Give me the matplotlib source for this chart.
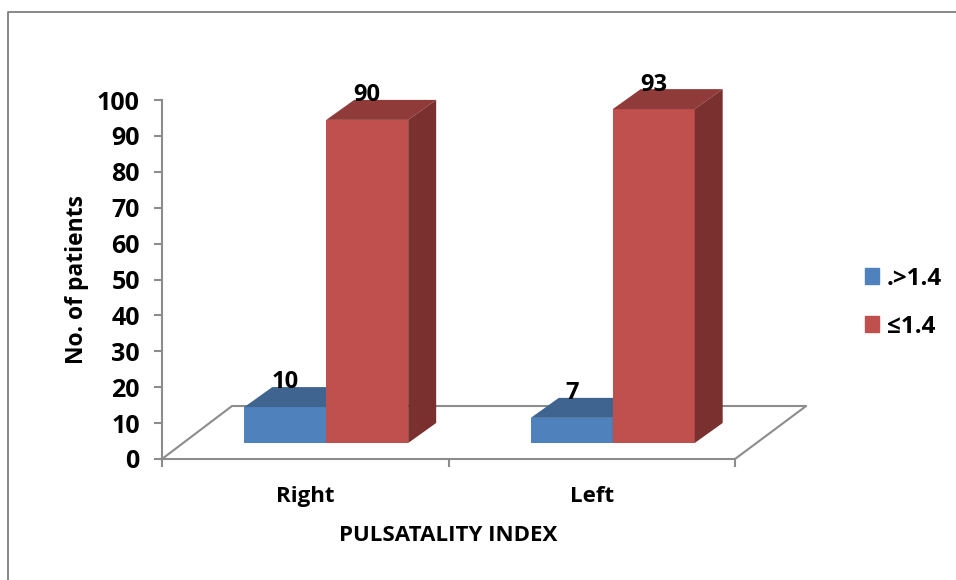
import matplotlib
matplotlib.use("Agg")
import matplotlib.pyplot as plt
from matplotlib.lines import Line2D
from matplotlib.patches import Patch

# Data
categories = ["Right", "Left"]
series_names = [".>1.4", "≤1.4"]
low_values = [10, 7]
high_values = [90, 93]
y_ticks = [0, 10, 20, 30, 40, 50, 60, 70, 80, 90, 100]

# Colours
blue, blue_top = "#4F81BD", "#3F6490"
red, red_top, red_side = "#C0504D", "#8F3B39", "#7A302E"
grey = "#8C8C8C"

plt.rcParams["font.family"] = ["Open Sans", "DejaVu Sans"]
plt.rcParams["font.weight"] = "bold"
plt.rcParams["font.size"] = 16

W, H = 956, 580
fig = plt.figure(figsize=(W / 100, H / 100), dpi=100)
ax = fig.add_axes([162 / W, 1 - 459 / H, 573 / W, 359 / H])
ax.set_xlim(0, 2)
ax.set_ylim(0, 100)

# pseudo 3d sizes in data units
base = 4.46
bar_w = 0.286
shift = 0.0733
depth_x = 0.0977
depth_y = 5.57
floor_x = 0.2443
floor_y = 14.76

# floor outline
ax.plot([0, floor_x, 2 + floor_x + 0.004, 2],
        [0, floor_y, floor_y, 0],
        color=grey, lw=1.5, clip_on=False, zorder=1)


def draw_bar(x0, value, front, top, side, z):
    top_y = base + value
    ax.bar(x0, value, width=bar_w, bottom=base, align="edge", color=front,
           zorder=z, clip_on=False)
    ax.fill([x0, x0 + depth_x, x0 + bar_w + depth_x, x0 + bar_w],
            [top_y, top_y + depth_y, top_y + depth_y, top_y],
            color=top, lw=0, zorder=z, clip_on=False)
    ax.fill([x0 + bar_w, x0 + bar_w + depth_x, x0 + bar_w + depth_x, x0 + bar_w],
            [base, base + depth_y, top_y + depth_y, top_y],
            color=side, lw=0, zorder=z, clip_on=False)


for i, cat in enumerate(categories):
    center = i + 0.5 + shift
    draw_bar(center - bar_w, low_values[i], blue, blue_top, blue_top, 2)
    draw_bar(center, high_values[i], red, red_top, red_side, 3)
    ax.text(center - bar_w / 2, base + low_values[i] + 7.0, str(low_values[i]),
            ha="center", va="center", fontsize=17, zorder=5)
    ax.text(center + bar_w / 2, base + high_values[i] + 6.8, str(high_values[i]),
            ha="center", va="center", fontsize=17, zorder=5)

# axes
for s in ["top", "right"]:
    ax.spines[s].set_visible(False)
for s in ["left", "bottom"]:
    ax.spines[s].set_color(grey)
    ax.spines[s].set_linewidth(1.5)
ax.patch.set_alpha(0)
ax.set_yticks(y_ticks)
ax.set_xticks([0, 1, 2])
ax.set_xticklabels([])
ax.tick_params(axis="both", color=grey, width=1.5, length=6)
ax.tick_params(axis="y", pad=10, labelsize=18)
for i, cat in enumerate(categories):
    ax.text(i + 0.5, -10.5, cat, ha="center", va="center")
ax.set_xlabel("PULSATALITY INDEX", fontweight="bold", fontsize=16, labelpad=38)
ax.set_ylabel("No. of patients", fontweight="bold", fontsize=16.5, labelpad=6)

# legend
handles = [Patch(color=blue, label=series_names[0]), Patch(color=red, label=series_names[1])]
fig.legend(handles=handles, loc="upper left", bbox_to_anchor=(855 / W, 1 - 257 / H),
           frameon=False, fontsize=17.5, handlelength=0.6, handleheight=0.6,
           labelspacing=0.98, handletextpad=0.3, borderaxespad=0, borderpad=0.4)

# outer frame
fig.add_artist(Line2D([8 / W, 8 / W, 1], [0, 1 - 12 / H, 1 - 12 / H],
                      color="#7F7F7F", lw=1.3))

fig.savefig("out.png", dpi=100)
